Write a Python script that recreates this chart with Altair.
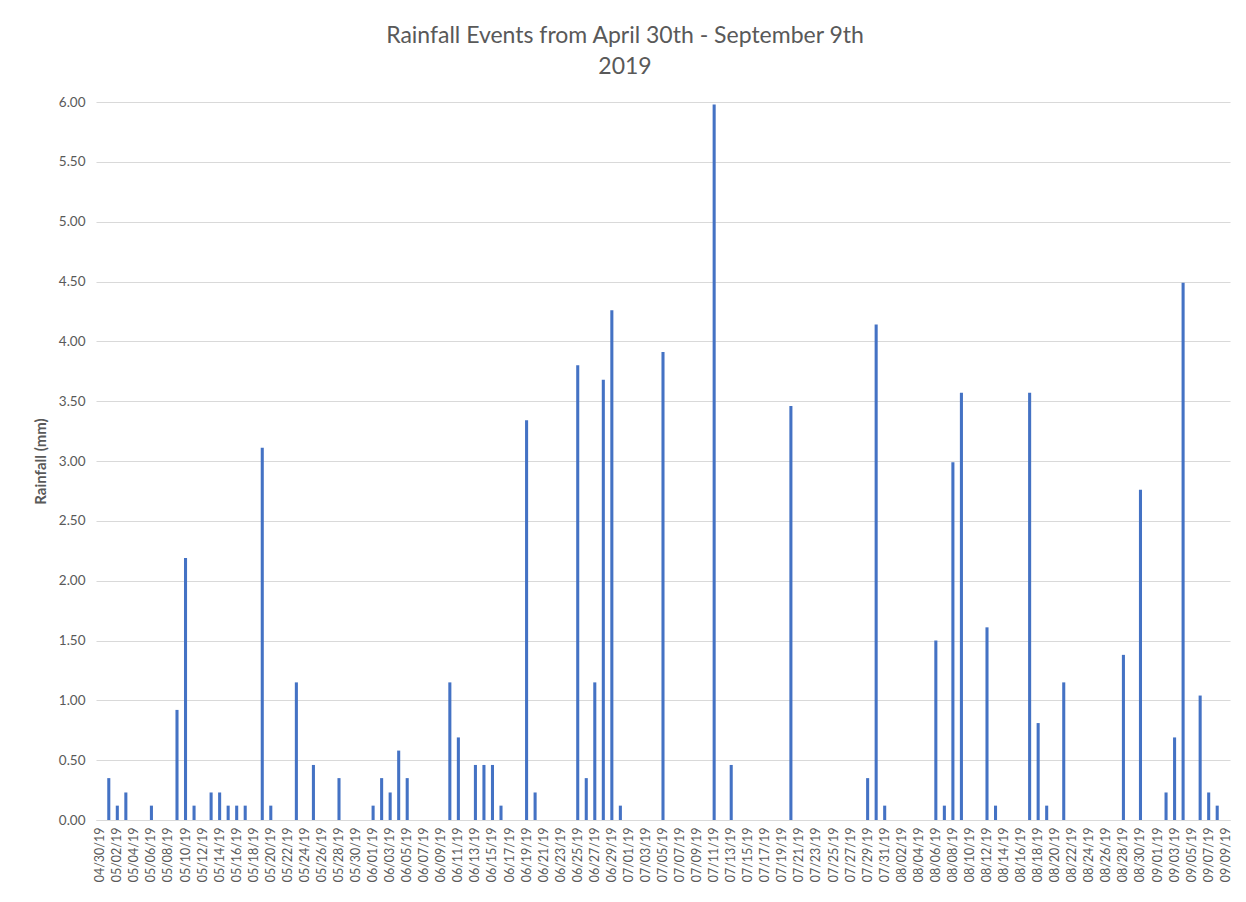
import altair as alt
import pandas as pd

# Rainy days (MM/DD/YY) and rainfall values (mm)
rain_dates = [
    "05/01/19", "05/02/19", "05/03/19", "05/06/19", "05/09/19", "05/10/19", "05/11/19",
    "05/13/19", "05/14/19", "05/15/19", "05/16/19", "05/17/19", "05/19/19", "05/20/19",
    "05/23/19", "05/25/19", "05/28/19",
    "06/01/19", "06/02/19", "06/03/19", "06/04/19", "06/05/19", "06/10/19", "06/11/19",
    "06/13/19", "06/14/19", "06/15/19", "06/16/19", "06/19/19", "06/20/19", "06/25/19",
    "06/26/19", "06/27/19", "06/28/19", "06/29/19", "06/30/19",
    "07/05/19", "07/11/19", "07/13/19", "07/20/19", "07/29/19", "07/30/19", "07/31/19",
    "08/06/19", "08/07/19", "08/08/19", "08/09/19", "08/12/19", "08/13/19", "08/17/19",
    "08/18/19", "08/19/19", "08/21/19", "08/28/19", "08/30/19",
    "09/02/19", "09/03/19", "09/04/19", "09/06/19", "09/07/19", "09/08/19",
]
rain_values = [
    0.35, 0.12, 0.23, 0.12, 0.92, 2.19, 0.12,
    0.23, 0.23, 0.12, 0.12, 0.12, 3.11, 0.12,
    1.15, 0.46, 0.35,
    0.12, 0.35, 0.23, 0.58, 0.35, 1.15, 0.69,
    0.46, 0.46, 0.46, 0.12, 3.34, 0.23, 3.80,
    0.35, 1.15, 3.68, 4.26, 0.12,
    3.91, 5.98, 0.46, 3.46, 0.35, 4.14, 0.12,
    1.50, 0.12, 2.99, 3.57, 1.61, 0.12, 3.57,
    0.81, 0.12, 1.15, 1.38, 2.76,
    0.23, 0.69, 4.49, 1.04, 0.23, 0.12,
]

# All day categories on the axis
all_days = [d.strftime("%m/%d/%y") for d in pd.date_range("2019-04-30", "2019-09-09", freq="D")]
label_days = all_days[::2]
y_ticks = [0, 0.5, 1, 1.5, 2, 2.5, 3, 3.5, 4, 4.5, 5, 5.5, 6]

lookup = dict(zip(rain_dates, rain_values))
df = pd.DataFrame({"date": all_days, "rain": [lookup.get(d, 0.0) for d in all_days]})

FONT = "Lato"
GREY = "#595959"

chart = alt.Chart(df).mark_bar(color="#4472C4").encode(
    x=alt.X(
        "date:N",
        sort=all_days,
        scale=alt.Scale(domain=all_days, paddingInner=0.64, paddingOuter=0.32),
        axis=alt.Axis(
            title=None,
            values=label_days,
            labelAngle=270,
            labelFontSize=12.5,
            labelColor=GREY,
            labelFont=FONT,
            labelPadding=7,
            ticks=False,
            domainColor="#d9d9d9",
            grid=False,
            labelOverlap=False,
        ),
    ),
    y=alt.Y(
        "rain:Q",
        scale=alt.Scale(domain=[0, 6], nice=False),
        axis=alt.Axis(
            title="Rainfall (mm)",
            values=y_ticks,
            format=".2f",
            labelFontSize=13.5,
            labelColor=GREY,
            labelFont=FONT,
            labelPadding=11,
            ticks=False,
            domain=False,
            gridColor="#d9d9d9",
            titleFont=FONT,
            titleFontSize=15,
            titleFontWeight="bold",
            titleColor=GREY,
            titlePadding=10,
        ),
    ),
).properties(
    width=1134,
    height=718,
    title=alt.TitleParams(
        text=["Rainfall Events from April 30th - September 9th", "2019"],
        font=FONT,
        fontSize=23,
        fontWeight="normal",
        color=GREY,
        lineHeight=31,
        anchor="middle",
        dx=-38,
        offset=16,
    ),
    padding={"left": 88, "top": 94, "right": 8, "bottom": 80},
    autosize=alt.AutoSizeParams(type="none"),
).configure_view(strokeWidth=0)

chart.save("out.html", embed_options={"renderer": "svg", "actions": False})
